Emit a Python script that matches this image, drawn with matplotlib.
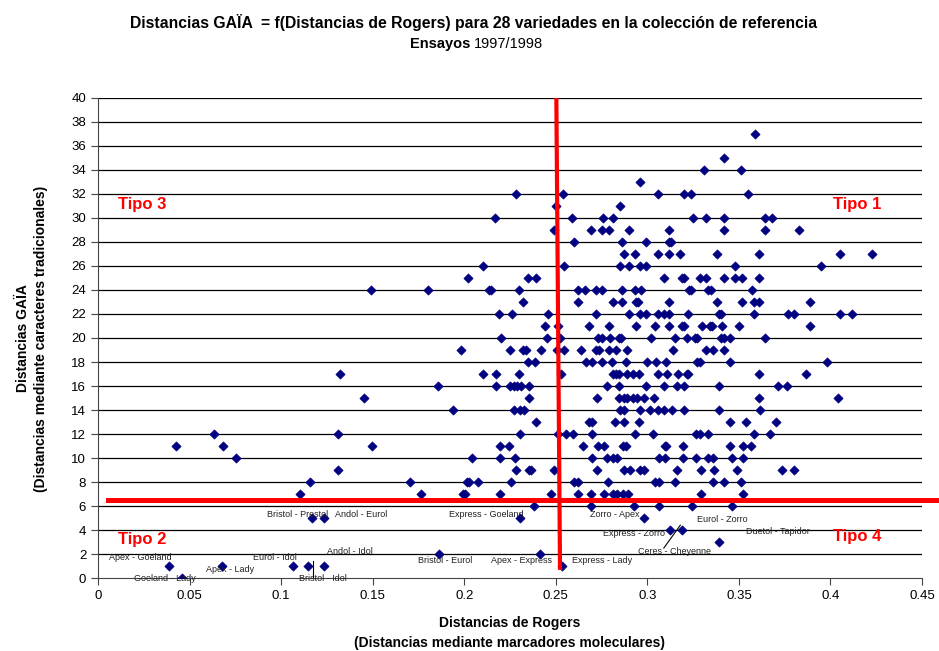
import matplotlib
matplotlib.use("Agg")
import matplotlib.pyplot as plt
from matplotlib.ticker import FuncFormatter

plt.rcParams['font.family'] = ['Liberation Sans', 'DejaVu Sans']

# Distancias GAÏA (y) y, para cada nivel, las distancias de Rogers (x)
gaia_levels = [37, 35, 34, 33, 32, 31, 30, 29, 28, 27, 26, 25, 24, 23, 22, 21, 20,
               19, 18, 17, 16, 15, 14, 13, 12, 11, 10, 9, 8, 7, 6, 5, 4, 3, 2, 1, 0]
rogers_rows = [
    [0.359],
    [0.342],
    [0.331, 0.351],
    [0.296],
    [0.228, 0.254, 0.306, 0.320, 0.324, 0.355],
    [0.250, 0.285],
    [0.217, 0.259, 0.276, 0.281, 0.325, 0.332, 0.342, 0.364, 0.368],
    [0.249, 0.269, 0.275, 0.279, 0.290, 0.312, 0.342, 0.364, 0.383],
    [0.260, 0.286, 0.299, 0.312, 0.313],
    [0.287, 0.293, 0.306, 0.312, 0.318, 0.338, 0.361, 0.405, 0.4225],
    [0.2105, 0.2545, 0.285, 0.290, 0.296, 0.299, 0.348, 0.395],
    [0.202, 0.235, 0.239, 0.309, 0.319, 0.320, 0.329, 0.332, 0.342, 0.348, 0.3515, 0.361],
    [0.149, 0.180, 0.2134, 0.2144, 0.230, 0.262, 0.266, 0.272, 0.275, 0.286, 0.293,
     0.2965, 0.323, 0.324, 0.333, 0.335, 0.357],
    [0.232, 0.262, 0.281, 0.286, 0.294, 0.295, 0.312, 0.338, 0.3515, 0.358, 0.361, 0.389],
    [0.219, 0.226, 0.246, 0.272, 0.290, 0.296, 0.2995, 0.306, 0.309, 0.312, 0.322,
     0.339, 0.340, 0.358, 0.377, 0.380, 0.405, 0.412],
    [0.244, 0.251, 0.268, 0.279, 0.294, 0.304, 0.312, 0.319, 0.320, 0.330, 0.334,
     0.3355, 0.341, 0.350, 0.389],
    [0.220, 0.245, 0.2525, 0.273, 0.275, 0.2795, 0.2845, 0.2855, 0.302, 0.315, 0.3215,
     0.326, 0.327, 0.340, 0.342, 0.345, 0.364],
    [0.198, 0.225, 0.232, 0.234, 0.242, 0.2505, 0.2545, 0.264, 0.272, 0.2735, 0.279,
     0.283, 0.289, 0.314, 0.332, 0.336, 0.342],
    [0.235, 0.2387, 0.2665, 0.270, 0.275, 0.2805, 0.2885, 0.300, 0.3045, 0.310, 0.327,
     0.329, 0.345, 0.398],
    [0.132, 0.2105, 0.2174, 0.230, 0.2527, 0.281, 0.283, 0.2845, 0.289, 0.292, 0.2955,
     0.306, 0.311, 0.3165, 0.3215, 0.3224, 0.361, 0.3865],
    [0.1855, 0.2174, 0.225, 0.227, 0.229, 0.231, 0.2355, 0.278, 0.2845, 0.2995, 0.309,
     0.316, 0.320, 0.339, 0.3715, 0.3765],
    [0.145, 0.2354, 0.2723, 0.2845, 0.287, 0.2887, 0.2924, 0.2942, 0.2984, 0.3035,
     0.361, 0.4043],
    [0.194, 0.227, 0.2305, 0.2325, 0.285, 0.2874, 0.296, 0.3017, 0.306, 0.309, 0.3135,
     0.320, 0.339, 0.3614],
    [0.239, 0.268, 0.2696, 0.2824, 0.2874, 0.2953, 0.345, 0.354, 0.370],
    [0.0635, 0.1313, 0.2305, 0.2514, 0.2555, 0.2594, 0.270, 0.2935, 0.3033, 0.3268,
     0.329, 0.3333, 0.3584, 0.367],
    [0.0426, 0.0684, 0.1495, 0.2193, 0.2244, 0.265, 0.2728, 0.2765, 0.2866, 0.2884,
     0.3097, 0.3104, 0.3193, 0.345, 0.3522, 0.3566],
    [0.0754, 0.2044, 0.2193, 0.2276, 0.270, 0.278, 0.2812, 0.2835, 0.3064, 0.3094,
     0.3194, 0.3266, 0.333, 0.336, 0.3463, 0.3524],
    [0.1313, 0.2285, 0.2354, 0.2366, 0.249, 0.2723, 0.2874, 0.2906, 0.2958, 0.2983,
     0.3164, 0.3295, 0.3364, 0.349, 0.3733, 0.3801],
    [0.1155, 0.1704, 0.2013, 0.2028, 0.2075, 0.2255, 0.260, 0.2623, 0.2783, 0.3042,
     0.3064, 0.3153, 0.336, 0.342, 0.3514],
    [0.1105, 0.1764, 0.1995, 0.2003, 0.2193, 0.2473, 0.2623, 0.2694, 0.2762, 0.2814,
     0.2834, 0.2865, 0.2895, 0.3294, 0.3524],
    [0.2382, 0.2693, 0.2927, 0.3066, 0.3242, 0.3463],
    [0.1167, 0.1234, 0.2305, 0.2984],
    [0.3124, 0.3191],
    [0.3393],
    [0.1864, 0.2414],
    [0.0388, 0.0675, 0.1067, 0.1145, 0.1234, 0.2532],
    [0.0457],
]

# Etiquetas de pares de variedades
pair_labels = ["Bristol - Prestol", "Andol - Eurol", "Apex - Goeland", "Goeland - Lady",
               "Apex - Lady", "Eurol - Idol", "Andol - Idol", "Bristol - Idol",
               "Express - Goeland", "Bristol - Eurol", "Apex - Express", "Express - Lady",
               "Zorro - Apex", "Express - Zorro", "Ceres - Cheyenne", "Eurol - Zorro",
               "Duetol - Tapidor"]
label_x = [0.109, 0.1437, 0.0229, 0.0366, 0.072, 0.0967, 0.1376, 0.1229,
           0.2119, 0.1895, 0.231, 0.2753, 0.2824, 0.2927, 0.3151, 0.3408, 0.3714]
label_y = [5.33, 5.33, 1.75, 0.0, 0.75, 1.75, 2.25, 0.0,
           5.33, 1.5, 1.5, 1.5, 5.33, 3.75, 2.25, 4.9, 3.9]

tipo_labels = ["Tipo 1", "Tipo 2", "Tipo 3", "Tipo 4"]
tipo_x = [0.4014, 0.011, 0.011, 0.4014]
tipo_y = [31.1, 3.2, 31.1, 3.5]

xs, ys = [], []
for level, row in zip(gaia_levels, rogers_rows):
    for v in row:
        xs.append(v)
        ys.append(level)

fig = plt.figure(figsize=(9.39, 6.51), dpi=100)
ax = fig.add_axes([0.1044, 0.1121, 0.8775, 0.7374])

ax.set_xlim(0, 0.45)
ax.set_ylim(0, 40)
ax.set_yticks(range(0, 41, 2))
ax.set_xticks([i * 0.05 for i in range(10)])
ax.xaxis.set_major_formatter(FuncFormatter(lambda v, p: "0" if abs(v) < 1e-9 else f"{v:g}"))

for y in range(2, 41, 2):
    ax.axhline(y, color='black', lw=0.9, zorder=1)

ax.spines['top'].set_visible(False)
ax.spines['right'].set_visible(False)
ax.spines['left'].set_color('#444444')
ax.spines['bottom'].set_color('#444444')
ax.tick_params(direction='out', length=5, color='#444444', labelsize=9.5)

ax.scatter(xs, ys, marker='D', s=22, color='#000080', edgecolors='#000080',
           linewidths=0.5, zorder=3)

# lineas rojas de separacion
ax.plot([0.2503, 0.2523], [40, 0.85], color='red', lw=3.0, zorder=4)
ax.plot([0.0056, 0.47], [6.5, 6.5], color='red', lw=3.6, zorder=4, clip_on=False)

for t, lx, ly in zip(pair_labels, label_x, label_y):
    ax.text(lx, ly, t, fontsize=6.5, color='#222222', ha='center', va='center', zorder=5)

# lineas guia
ax.plot([0.309, 0.318], [2.5, 4.4], color='black', lw=0.8, zorder=5)
ax.plot([0.1176, 0.1176], [1.4, 0.1], color='black', lw=0.8, zorder=5)

for t, tx, ty in zip(tipo_labels, tipo_x, tipo_y):
    ax.text(tx, ty, t, fontsize=12, fontweight='bold', color='red', ha='left', va='center')

fig.text(0.504, 0.966, "Distancias GAÏA  = f(Distancias de Rogers) para 28 variedades en la colección de referencia",
         ha='center', va='center', fontsize=11.3, fontweight='bold')
fig.text(0.5005, 0.932, "Ensayos", ha='right', va='center', fontsize=10.5, fontweight='bold')
fig.text(0.5048, 0.932, "1997/1998", ha='left', va='center', fontsize=10.5)

fig.text(0.543, 0.043, "Distancias de Rogers", ha='center', va='center',
         fontsize=10, fontweight='bold')
fig.text(0.543, 0.013, "(Distancias mediante marcadores moleculares)", ha='center',
         va='center', fontsize=10, fontweight='bold')
fig.text(0.024, 0.48, "Distancias GAÏA", rotation=90, ha='center', va='center',
         fontsize=10, fontweight='bold')
fig.text(0.044, 0.48, "(Distancias mediante caracteres tradicionales)", rotation=90,
         ha='center', va='center', fontsize=10, fontweight='bold')

fig.savefig("out.png", dpi=100)
